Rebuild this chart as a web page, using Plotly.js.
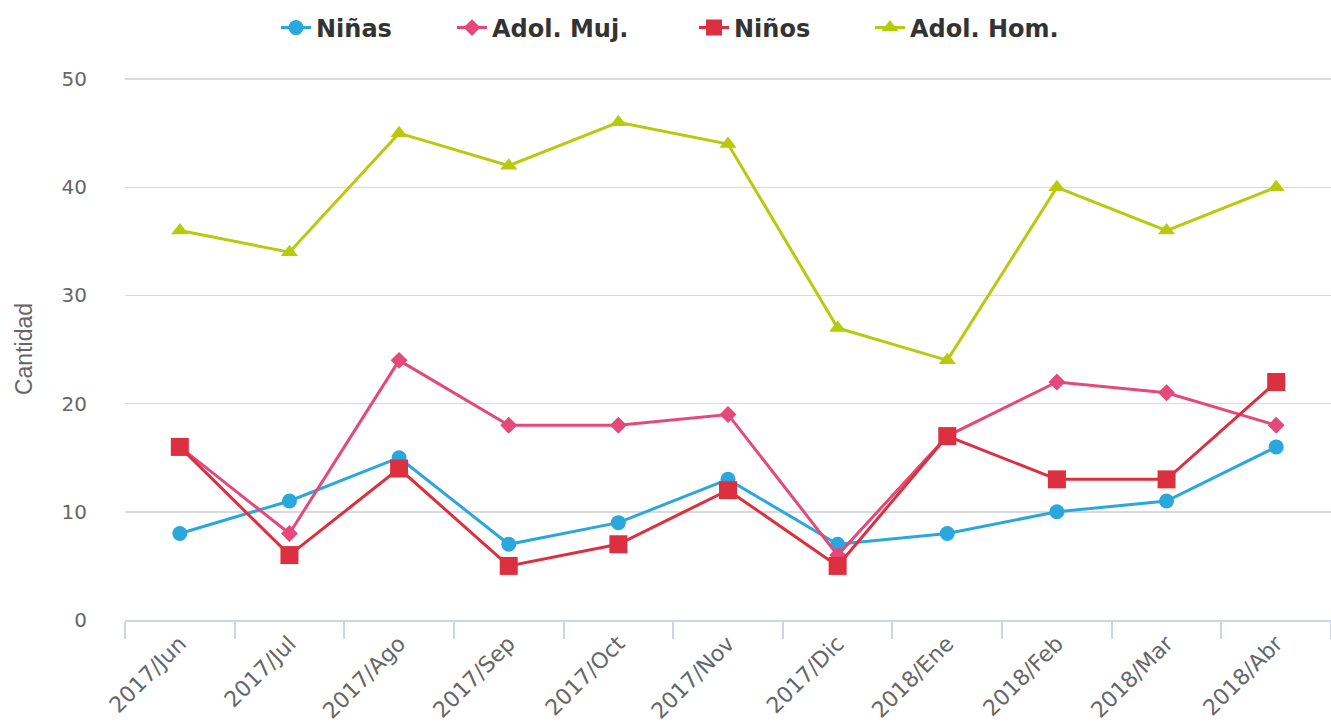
<!DOCTYPE html>
<html>
<head>
<meta charset="utf-8">
<script src="https://cdn.plot.ly/plotly-3.0.1.min.js"></script>
<style>html,body{margin:0;padding:0;background:#fff;}#chart{width:1331px;height:725px;}</style>
</head>
<body>
<div id="chart"></div>
<script>
const categories = ["2017/Jun","2017/Jul","2017/Ago","2017/Sep","2017/Oct","2017/Nov","2017/Dic","2018/Ene","2018/Feb","2018/Mar","2018/Abr"];
const ninas    = [8, 11, 15, 7, 9, 13, 7, 8, 10, 11, 16];
const adolMuj  = [16, 8, 24, 18, 18, 19, 6, 17, 22, 21, 18];
const ninos    = [16, 6, 14, 5, 7, 12, 5, 17, 13, 13, 22];
const adolHom  = [36, 34, 45, 42, 46, 44, 27, 24, 40, 36, 40];
const yTicks   = [0, 10, 20, 30, 40, 50];

function tr(name, y, color, symbol, size, legendId) {
  return {
    type: "scatter", mode: "lines+markers", name: name, legend: legendId,
    x: categories, y: y,
    line: {color: color, width: 3},
    marker: {color: color, symbol: symbol, size: size}
  };
}

const data = [
  tr("Niñas", ninas, "#2aa8de", "circle", 15, "legend"),
  tr("Adol. Muj.", adolMuj, "#e5497a", "diamond", 13, "legend2"),
  tr("Niños", ninos, "#dc2f3f", "square", 18, "legend3"),
  tr("Adol. Hom.", adolHom, "#b5cb0c", "triangle-up", 15, "legend4")
];

const W = 1331, H = 725;
function leg(textLeft) {
  return {
    orientation: "h", xref: "container", yref: "container",
    x: (textLeft - 40) / W, xanchor: "left",
    y: 1 - 28 / H, yanchor: "middle",
    bgcolor: "rgba(0,0,0,0)",
    font: {family: "DejaVu Sans, sans-serif", size: 24, color: "#333", weight: "bold"},
    itemwidth: 30
  };
}

const layout = {
  width: W, height: H,
  paper_bgcolor: "#fff", plot_bgcolor: "#fff",
  margin: {l: 125, r: 0, t: 78, b: 105},
  font: {family: "DejaVu Sans, sans-serif", color: "#666"},
  showlegend: true,
  legend: leg(316),
  legend2: leg(492),
  legend3: leg(734),
  legend4: leg(910),
  xaxis: {
    type: "category",
    range: [-0.5, 10.5],
    tickson: "boundaries",
    ticks: "outside", ticklen: 17, tickwidth: 2, tickcolor: "#ccd6eb",
    showline: true, linecolor: "#ccd6eb", linewidth: 2,
    showgrid: false, zeroline: false,
    tickangle: -45,
    tickfont: {family: "DejaVu Sans, sans-serif", size: 22, color: "#666"}
  },
  yaxis: {
    range: [0, 50.1],
    tickvals: yTicks,
    ticktext: yTicks.map(String),
    showgrid: true, gridcolor: "#dadada", gridwidth: 1.5,
    zeroline: false, showline: false,
    ticks: "outside", ticklen: 33, tickcolor: "rgba(0,0,0,0)",
    tickfont: {family: "DejaVu Sans, sans-serif", size: 20, color: "#666"},
    title: {text: "Cantidad", standoff: 22, font: {family: "Liberation Sans, sans-serif", size: 23, color: "#666"}}
  },
  hovermode: false
};

Plotly.newPlot("chart", data, layout, {displayModeBar: false, staticPlot: true});
</script>
</body>
</html>
